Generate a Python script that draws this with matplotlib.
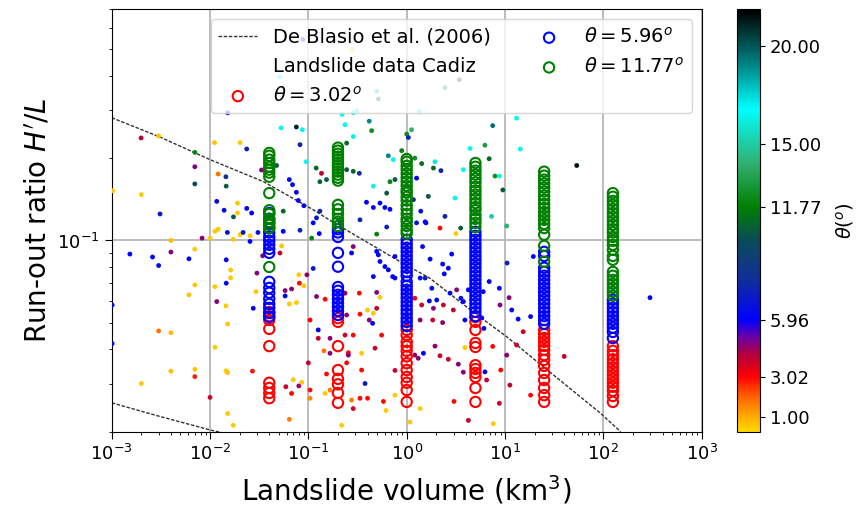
import numpy as np
import matplotlib.pyplot as plt
from matplotlib.colors import LinearSegmentedColormap, Normalize
from matplotlib.lines import Line2D
from matplotlib.ticker import NullFormatter, FormatStrFormatter

# De Blasio et al. (2006) curves (volume in km^3, H'/L)
deblasio_vol = [0.001, 0.003, 0.01, 0.035, 0.11, 0.18, 0.85, 1.7, 4.7, 10.4, 24.4, 93, 150]
deblasio_ratio = [0.281, 0.240, 0.1975, 0.164, 0.130, 0.1164, 0.0838, 0.073, 0.0549, 0.0445, 0.0346, 0.0234, 0.0200]
deblasio_low_vol = [0.001, 0.003, 0.01, 0.03]
deblasio_low_ratio = [0.0255, 0.0228, 0.0203, 0.0185]

# landslide data, Cadiz
dot_volume = [
    0.00199, 0.0030, 0.0070, 0.0070, 0.0070, 0.00102, 0.0020, 0.0031, 0.00153, 0.0026,
    0.0030, 0.0061, 0.0040, 0.0040, 0.0070, 0.0070, 0.0061, 0.0083, 0.00101, 0.00101,
    0.0030, 0.0040, 0.0020, 0.0040, 0.0070, 0.0070, 0.0111, 0.0202, 0.0236, 0.0121,
    0.0145, 0.0146, 0.0334, 0.0475, 0.0527, 0.0755, 0.087, 0.0822, 0.095, 0.064,
    0.0755, 0.069, 0.0555, 0.0117, 0.0139, 0.019, 0.019, 0.0173, 0.0236, 0.0265,
    0.079, 0.090, 0.0112, 0.0121, 0.015, 0.010, 0.0172, 0.0202, 0.0217, 0.0255,
    0.0255, 0.0307, 0.0146, 0.0162, 0.0162, 0.0146, 0.0112, 0.0117, 0.0145, 0.0151,
    0.0112, 0.0145, 0.0151, 0.010, 0.0151, 0.0172, 0.0270, 0.0293, 0.0300, 0.0275,
    0.0343, 0.0514, 0.0535, 0.059, 0.0675, 0.070, 0.080, 0.0855, 0.064, 0.058,
    0.0675, 0.064, 0.0755, 0.058, 0.0809, 0.080, 0.090, 0.0555, 0.0822, 0.0514,
    0.088, 0.0151, 0.0966, 0.112, 0.104, 0.100, 0.104, 0.104, 0.126, 0.126,
    0.121, 0.148, 0.166, 0.166, 0.153, 0.148, 0.166, 0.144, 0.236, 0.245,
    0.236, 0.255, 0.286, 0.245, 0.286, 0.275, 0.335, 0.33, 0.348, 0.348,
    0.335, 0.40, 0.377, 0.40, 0.416, 0.45, 0.458, 0.495, 0.535, 0.556,
    0.476, 0.58, 0.616, 0.76, 0.76, 0.218, 0.255, 0.458, 0.495, 0.515,
    0.535, 0.60, 0.65, 0.72, 0.76, 0.626, 0.76, 0.495, 0.275, 0.286,
    0.495, 0.112, 0.129, 0.108, 0.12, 0.136, 0.131, 0.153, 0.245, 0.286,
    0.33, 0.245, 0.286, 0.236, 0.416, 0.44, 0.458, 0.65, 0.73, 0.676,
    0.76, 0.626, 0.535, 0.39, 0.458, 0.60, 0.676, 0.335, 0.21, 0.121,
    0.131, 0.22, 0.286, 0.31, 0.495, 0.515, 0.28, 2.45, 3.43, 1.34,
    13.1, 7.5, 1.12, 1.0, 1.04, 0.89, 1.21, 1.42, 1.87, 2.23,
    1.94, 4.41, 6.25, 6.9, 3.76, 7.9, 8.75, 9.5, 3.1, 1.26,
    1.17, 1.39, 1.66, 2.45, 1.54, 7.3, 14.3, 53.6, 2.18, 10.4,
    1.26, 1.57, 3.17, 3.54, 1.45, 1.73, 2.32, 2.65, 2.41, 2.87,
    1.37, 1.54, 1.80, 2.02, 1.70, 1.21, 1.42, 1.87, 2.36, 2.76,
    3.22, 3.56, 3.77, 4.24, 2.98, 1.37, 1.84, 2.32, 3.91, 1.94,
    1.48, 1.21, 1.31, 2.18, 2.65, 3.35, 3.77, 3.91, 3.03, 1.37,
    1.08, 4.24, 7.6, 6.5, 6.25, 6.9, 6.0, 5.8, 6.1, 7.5,
    8.75, 8.9, 9.05, 8.75, 10.4, 11.2, 10.5, 11.0, 11.7, 13.6,
    15.3, 13.1, 18.2, 18.2, 19.4, 40.0, 298.0,
]
dot_ratio = [
    0.237, 0.241, 0.210, 0.186, 0.161, 0.152, 0.147, 0.125, 0.0892, 0.0870,
    0.081, 0.0857, 0.100, 0.0907, 0.093, 0.0688, 0.0633, 0.102, 0.0581, 0.042,
    0.0467, 0.046, 0.030, 0.0333, 0.0338, 0.0318, 0.228, 0.228, 0.216, 0.175,
    0.171, 0.158, 0.181, 0.188, 0.258, 0.260, 0.254, 0.224, 0.194, 0.167,
    0.150, 0.160, 0.128, 0.139, 0.129, 0.137, 0.126, 0.122, 0.131, 0.126,
    0.140, 0.134, 0.108, 0.110, 0.107, 0.102, 0.101, 0.105, 0.107, 0.104,
    0.0992, 0.107, 0.085, 0.078, 0.073, 0.0698, 0.0678, 0.0598, 0.0577, 0.0495,
    0.0407, 0.0334, 0.0329, 0.0267, 0.0233, 0.0211, 0.0333, 0.065, 0.076, 0.0565,
    0.0879, 0.090, 0.0956, 0.0292, 0.0276, 0.031, 0.0294, 0.0303, 0.0222, 0.0656,
    0.0665, 0.0586, 0.0593, 0.0627, 0.0698, 0.0749, 0.0683, 0.108, 0.109, 0.396,
    0.543, 0.293, 0.0749, 0.079, 0.0512, 0.0357, 0.0284, 0.0265, 0.0471, 0.0439,
    0.0624, 0.061, 0.0439, 0.0387, 0.0325, 0.0276, 0.0284, 0.0395, 0.0642, 0.0534,
    0.0451, 0.0389, 0.0451, 0.0357, 0.0243, 0.0261, 0.0538, 0.0642, 0.0387, 0.0336,
    0.0265, 0.0265, 0.030, 0.0557, 0.0512, 0.0498, 0.0542, 0.0565, 0.062, 0.0451,
    0.0404, 0.0258, 0.0239, 0.0272, 0.0335, 0.0211, 0.0381, 0.0738, 0.0912, 0.0886,
    0.0838, 0.0803, 0.0781, 0.0738, 0.0729, 0.112, 0.0874, 0.1055, 0.090, 0.095,
    0.0646, 0.116, 0.106, 0.102, 0.184, 0.176, 0.164, 0.167, 0.1815, 0.179,
    0.176, 0.227, 0.24, 0.265, 0.273, 0.252, 0.158, 0.204, 0.1975, 0.164,
    0.167, 0.149, 0.137, 0.138, 0.132, 0.132, 0.130, 0.119, 0.117, 0.121,
    0.128, 0.289, 0.293, 0.297, 0.351, 0.329, 0.50, 0.362, 0.387, 0.297,
    0.28, 0.263, 0.254, 0.245, 0.238, 0.213, 0.2, 0.191, 0.184, 0.18,
    0.194, 0.217, 0.223, 0.199, 0.1815, 0.172, 0.172, 0.153, 0.143, 0.169,
    0.141, 0.128, 0.145, 0.1225, 0.117, 0.1225, 0.216, 0.188, 0.111, 0.113,
    0.116, 0.116, 0.106, 0.111, 0.095, 0.0855, 0.082, 0.0792, 0.0755, 0.0892,
    0.0729, 0.0729, 0.0669, 0.0606, 0.0601, 0.0615, 0.0581, 0.0565, 0.0581, 0.0642,
    0.066, 0.0615, 0.0598, 0.066, 0.0557, 0.0512, 0.0512, 0.0501, 0.0512, 0.0411,
    0.0387, 0.0381, 0.0371, 0.0379, 0.0368, 0.0353, 0.033, 0.0406, 0.0258, 0.0243,
    0.0217, 0.022, 0.0214, 0.0309, 0.0331, 0.0708, 0.065, 0.0521, 0.0477, 0.041,
    0.0669, 0.0581, 0.0336, 0.0254, 0.0381, 0.0296, 0.0827, 0.0618, 0.0557, 0.0516,
    0.0464, 0.0415, 0.0527, 0.0272, 0.0874, 0.0377, 0.0618,
]
dot_theta = [
    4.0, 0.6, 12.0, 4.8, 10.0, 0.5, 0.5, 7.0, 6.0, 6.0,
    6.2, 6.0, 0.7, 4.8, 0.5, 0.5, 0.6, 4.6, 6.0, 6.0,
    1.8, 0.7, 0.5, 0.6, 0.5, 2.7, 0.6, 0.5, 7.5, 1.8,
    8.0, 10.5, 4.8, 10.5, 16.5, 21.0, 16.5, 7.5, 16.5, 6.0,
    6.0, 6.2, 11.0, 6.3, 6.3, 0.5, 0.5, 10.5, 6.0, 6.0,
    6.0, 6.0, 0.5, 0.5, 7.0, 0.5, 0.5, 0.5, 7.0, 0.5,
    6.0, 7.0, 6.0, 0.5, 0.5, 6.0, 0.5, 4.7, 0.5, 0.5,
    0.5, 0.5, 0.6, 3.8, 0.5, 0.5, 2.8, 0.5, 4.8, 6.0,
    4.8, 4.0, 0.5, 3.8, 3.0, 0.5, 4.7, 0.5, 1.6, 4.7,
    4.7, 0.5, 0.5, 6.0, 3.0, 0.5, 0.5, 6.0, 7.5, 16.5,
    6.0, 6.0, 4.7, 7.0, 3.2, 3.8, 3.0, 1.5, 6.0, 3.8,
    4.7, 3.0, 4.7, 4.7, 3.0, 0.5, 1.6, 1.8, 4.7, 4.6,
    3.8, 3.0, 3.0, 3.0, 3.8, 1.6, 3.0, 3.0, 0.5, 3.0,
    3.0, 3.0, 7.0, 0.5, 4.7, 6.0, 0.5, 3.8, 0.5, 3.0,
    3.8, 3.0, 0.5, 0.5, 3.8, 0.5, 4.7, 6.0, 6.0, 6.0,
    6.0, 6.0, 6.0, 6.0, 6.0, 7.5, 6.0, 12.0, 6.0, 4.7,
    4.7, 6.0, 6.0, 12.0, 11.0, 4.0, 11.0, 10.5, 10.5, 11.0,
    8.0, 11.0, 16.5, 16.5, 19.0, 12.5, 16.5, 19.0, 16.5, 12.0,
    10.5, 10.5, 6.0, 6.0, 6.0, 6.0, 6.0, 7.5, 6.0, 7.0,
    7.5, 16.5, 16.0, 16.0, 18.0, 20.0, 0.5, 19.0, 21.0, 16.5,
    16.5, 19.5, 14.0, 12.5, 7.5, 12.0, 12.5, 11.0, 11.0, 7.5,
    16.0, 16.5, 13.0, 11.0, 16.5, 12.5, 16.5, 10.5, 16.5, 6.0,
    7.5, 6.5, 10.5, 7.5, 6.0, 15.0, 16.5, 21.5, 3.0, 14.0,
    7.0, 6.0, 0.5, 10.5, 6.0, 6.0, 6.0, 6.0, 6.0, 6.0,
    6.0, 7.0, 6.0, 6.0, 6.0, 3.0, 3.8, 4.7, 3.8, 6.0,
    4.7, 6.0, 6.0, 6.0, 3.8, 4.7, 3.8, 4.7, 6.0, 4.7,
    6.0, 4.7, 4.7, 3.8, 3.8, 4.7, 4.7, 0.5, 3.0, 0.5,
    0.5, 3.8, 0.5, 3.8, 6.0, 6.0, 6.0, 6.0, 6.0, 3.0,
    6.0, 4.7, 3.0, 3.8, 4.7, 3.8, 7.5, 4.7, 6.0, 6.0,
    3.8, 3.8, 6.0, 3.0, 6.0, 3.8, 6.0,
]

# simulated run-outs for each volume and friction angle
sim_volume = [0.04, 0.2, 1, 5, 25, 125]
ratio_302 = [
    [0.0548, 0.0529, 0.0512, 0.0475, 0.0411, 0.0302, 0.0289, 0.0277, 0.0265],
    [0.052, 0.0504, 0.0411, 0.0336, 0.0312, 0.0298, 0.0277, 0.0255],
    [0.0471, 0.0451, 0.0426, 0.0411, 0.0395, 0.0377, 0.0356, 0.0336, 0.0317, 0.0302, 0.0284, 0.0257],
    [0.0525, 0.0504, 0.0471, 0.0422, 0.0408, 0.035, 0.0339, 0.0328, 0.0317, 0.0289, 0.0257],
    [0.0471, 0.0455, 0.044, 0.0426, 0.0412, 0.0398, 0.0381, 0.0366, 0.0348, 0.0328, 0.0309, 0.0289, 0.0272, 0.0257],
    [0.0411, 0.0395, 0.0381, 0.0368, 0.0356, 0.0344, 0.0333, 0.0322, 0.0312, 0.0302, 0.0292, 0.0282, 0.027, 0.0257],
]
ratio_596 = [
    [0.126, 0.120, 0.116, 0.111, 0.107, 0.103, 0.0998, 0.0964, 0.0932, 0.0901, 0.0706, 0.0671, 0.0644,
     0.0612, 0.0586, 0.0567, 0.0543, 0.0525],
    [0.110, 0.107, 0.103, 0.0901, 0.0802, 0.0676, 0.0655, 0.0633, 0.0612, 0.0591, 0.0572, 0.0553, 0.0534],
    [0.1006, 0.0972, 0.094, 0.0909, 0.0878, 0.085, 0.0822, 0.0795, 0.0768, 0.0743, 0.0706, 0.0682, 0.066,
     0.0638, 0.0617, 0.0597, 0.0577, 0.0557, 0.0539, 0.052, 0.0504, 0.0487],
    [0.1076, 0.104, 0.1006, 0.0972, 0.094, 0.0909, 0.0878, 0.085, 0.0822, 0.0795, 0.0768, 0.0743, 0.0718,
     0.0694, 0.0671, 0.0649, 0.0628, 0.0607, 0.0587, 0.0567, 0.0548, 0.0529],
    [0.0909, 0.0878, 0.0795, 0.0768, 0.0743, 0.0718, 0.0694, 0.0671, 0.0649, 0.0628, 0.0607, 0.0587,
     0.0567, 0.0548, 0.0529, 0.0512, 0.0496],
    [0.0607, 0.0587, 0.0567, 0.0548, 0.0529, 0.0512, 0.0496, 0.048, 0.0463, 0.044],
]
ratio_1177 = [
    [0.209, 0.204, 0.1975, 0.192, 0.186, 0.1815, 0.177, 0.171, 0.149, 0.129, 0.125, 0.120, 0.117, 0.114,
     0.111, 0.080],
    [0.2185, 0.213, 0.2075, 0.2025, 0.1975, 0.192, 0.1875, 0.183, 0.1785, 0.174, 0.1695, 0.1655, 0.135,
     0.130, 0.125, 0.120, 0.117, 0.113],
    [0.1985, 0.194, 0.1875, 0.1815, 0.1755, 0.1695, 0.164, 0.1585, 0.153, 0.1495, 0.1445, 0.140, 0.1345,
     0.130, 0.125, 0.120, 0.117, 0.113, 0.109, 0.106],
    [0.192, 0.186, 0.180, 0.174, 0.1685, 0.163, 0.157, 0.152, 0.147, 0.142, 0.137, 0.1325, 0.129, 0.124,
     0.120, 0.116, 0.112],
    [0.1785, 0.1725, 0.167, 0.1615, 0.156, 0.151, 0.146, 0.141, 0.136, 0.1315, 0.127, 0.123, 0.119, 0.115,
     0.111, 0.105, 0.0956, 0.0836],
    [0.149, 0.1445, 0.1395, 0.135, 0.1305, 0.126, 0.122, 0.118, 0.114, 0.110, 0.107, 0.103, 0.0998, 0.0964,
     0.0924, 0.0878, 0.085, 0.0768, 0.0743, 0.0718, 0.0694, 0.0671, 0.0649, 0.0628],
]

cbar_ticks = [1.00, 3.02, 5.96, 11.77, 15.00, 20.00]
theta_min, theta_max = 0.23, 21.9
cmap_nodes = [0.23, 1.0, 2.0, 3.02, 4.2, 5.0, 5.96, 8.0, 10.0, 11.77, 14.0, 16.8, 19.0, 21.9]
cmap_colors = ['#ffd700', '#ffaa00', '#ff6000', '#ff0000', '#b00040', '#7000a0', '#0000ff',
               '#102e9a', '#0b4a5a', '#008000', '#30b070', '#00ffff', '#008888', '#000000']

pos = [(v - theta_min) / (theta_max - theta_min) for v in cmap_nodes]
cmap = LinearSegmentedColormap.from_list('theta', list(zip(pos, cmap_colors)))
norm = Normalize(vmin=theta_min, vmax=theta_max)

fig = plt.figure(figsize=(8.6, 5.11), dpi=100)
ax = fig.add_axes([0.1299, 0.1552, 0.686, 0.8266])
cax = fig.add_axes([0.857, 0.1552, 0.0267, 0.8266])

ax.set_xscale('log')
ax.set_yscale('log')
ax.set_xlim(1e-3, 1e3)
ax.set_ylim(0.02, 0.7)
ax.grid(True, which='major', color='#b0b0b0', lw=1.2)
ax.set_axisbelow(True)

line, = ax.plot(deblasio_vol, deblasio_ratio, color='#333333', lw=1.0, dashes=(2.5, 1.2), zorder=2)
ax.plot(deblasio_low_vol, deblasio_low_ratio, color='#333333', lw=1.0, dashes=(2.5, 1.2), zorder=2)

sc = ax.scatter(dot_volume, dot_ratio, c=dot_theta, cmap=cmap, norm=norm, s=12, linewidths=0, zorder=3)

circle_handles = []
for ratios, col in [(ratio_302, 'red'), (ratio_596, 'blue'), (ratio_1177, 'green')]:
    xs = np.concatenate([[v] * len(r) for v, r in zip(sim_volume, ratios)])
    ys = np.concatenate(ratios)
    h = ax.scatter(xs, ys, s=55, facecolors='none', edgecolors=col, linewidths=1.5, zorder=4)
    circle_handles.append(h)

handles = [line, Line2D([], [], linestyle='none')] + circle_handles
labels = ['De Blasio et al. (2006)', 'Landslide data Cadiz',
          r'$\theta = 3.02^o$', r'$\theta = 5.96^o$', r'$\theta = 11.77^o$']
ax.legend(handles, labels, ncol=2, loc='upper right', fontsize=14, scatterpoints=1)

ax.yaxis.set_minor_formatter(NullFormatter())
ax.tick_params(labelsize=13)
ax.tick_params(which='major', length=5)
ax.set_xlabel(r'Landslide volume (km$^3$)', fontsize=20, labelpad=7)
ax.set_ylabel(r"Run-out ratio $H'/L$", fontsize=20)

cb = fig.colorbar(sc, cax=cax)
cb.set_ticks(cbar_ticks)
cb.ax.yaxis.set_major_formatter(FormatStrFormatter('%.2f'))
cb.ax.tick_params(labelsize=13)
cb.set_label(r'$\theta (^o)$', fontsize=14, labelpad=9)

fig.savefig('out.png', dpi=100)
